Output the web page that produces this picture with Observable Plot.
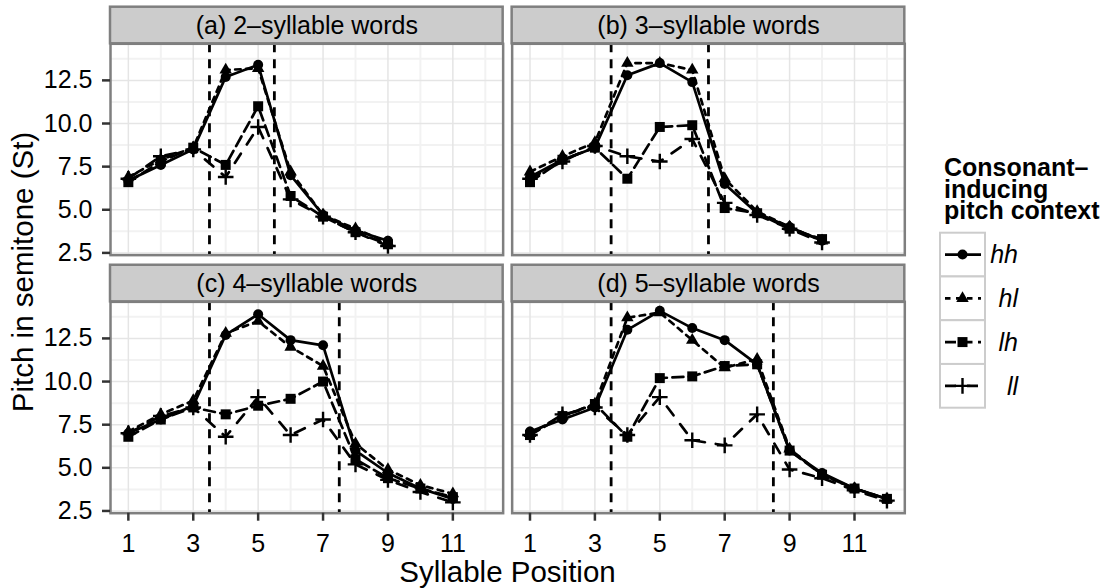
<!DOCTYPE html>
<html>
<head>
<meta charset="utf-8">
<script src="https://cdn.jsdelivr.net/npm/d3@7"></script>
<script src="https://cdn.jsdelivr.net/npm/@observablehq/plot@0.6"></script>
<style>
  html, body { margin: 0; padding: 0; background: #ffffff; }
  #chart { width: 1105px; height: 588px; }
</style>
</head>
<body>
<div id="chart"></div>
<script>
// ---------- data ----------
const panelTitles = ["(a) 2–syllable words", "(b) 3–syllable words", "(c) 4–syllable words", "(d) 5–syllable words"];
const panelCols = ["L", "R", "L", "R"];
const panelRows = ["T", "T", "B", "B"];
const contexts = ["hh", "hl", "lh", "ll"];

const positionsA = [1, 2, 3, 4, 5, 6, 7, 8, 9];
const positionsB = [1, 2, 3, 4, 5, 6, 7, 8, 9, 10];
const positionsC = [1, 2, 3, 4, 5, 6, 7, 8, 9, 10, 11];
const positionsD = [1, 2, 3, 4, 5, 6, 7, 8, 9, 10, 11, 12];

const panelA_hh = [6.7, 7.6, 8.5, 12.7, 13.4, 7.0, 4.7, 3.8, 3.2];
const panelA_hl = [6.9, 7.9, 8.6, 13.1, 13.2, 7.2, 4.7, 3.9, 3.1];
const panelA_lh = [6.6, 7.8, 8.6, 7.6, 11.0, 5.8, 4.6, 3.7, 3.0];
const panelA_ll = [6.8, 8.1, 8.5, 6.9, 9.8, 5.6, 4.6, 3.7, 2.9];

const panelB_hh = [6.9, 7.9, 8.6, 12.8, 13.5, 12.4, 6.5, 4.8, 4.0, 3.2];
const panelB_hl = [7.2, 8.1, 8.9, 13.5, 13.5, 13.1, 6.8, 4.9, 4.0, 3.2];
const panelB_lh = [6.6, 7.9, 8.6, 6.8, 9.8, 9.9, 5.1, 4.8, 3.9, 3.3];
const panelB_ll = [6.8, 7.8, 8.7, 8.1, 7.8, 9.1, 5.4, 4.7, 3.9, 3.1];

const panelC_hh = [7.0, 7.8, 8.6, 12.7, 13.9, 12.4, 12.1, 6.0, 4.7, 3.8, 3.2];
const panelC_hl = [7.1, 8.1, 8.9, 12.8, 13.5, 12.0, 10.9, 6.4, 4.9, 4.0, 3.5];
const panelC_lh = [6.8, 7.8, 8.5, 8.1, 8.6, 9.0, 10.0, 5.5, 4.4, 3.8, 3.3];
const panelC_ll = [7.0, 8.0, 8.5, 6.8, 9.1, 6.9, 7.8, 5.2, 4.3, 3.6, 3.0];

const panelD_hh = [7.1, 7.8, 8.5, 13.0, 14.1, 13.1, 12.4, 11.0, 6.0, 4.7, 3.8, 3.2];
const panelD_hl = [7.0, 8.0, 8.7, 13.7, 14.0, 12.4, 10.8, 11.3, 6.1, 4.6, 3.8, 3.2];
const panelD_lh = [6.9, 8.0, 8.7, 6.8, 10.2, 10.3, 10.9, 11.0, 6.0, 4.6, 3.8, 3.2];
const panelD_ll = [6.9, 8.1, 8.5, 6.9, 9.1, 6.6, 6.3, 8.1, 4.9, 4.4, 3.7, 3.1];

const boundaryStart = [3.5, 3.5, 3.5, 3.5];
const boundaryEnd = [5.5, 6.5, 7.5, 8.5];

const xTicks = [1, 3, 5, 7, 9, 11];
const xMinorTicks = [2, 4, 6, 8, 10, 12];
const yTicks = [2.5, 5.0, 7.5, 10.0, 12.5];
const yMinorTicks = [3.75, 6.25, 8.75, 11.25, 13.75];

const xTitle = "Syllable Position";
const yTitle = "Pitch in semitone (St)";
const legendTitleLines = ["Consonant–", "inducing", "pitch context"];

// ---------- tables for the library ----------
const positions = [positionsA, positionsB, positionsC, positionsD];
const series = [
  {hh: panelA_hh, hl: panelA_hl, lh: panelA_lh, ll: panelA_ll},
  {hh: panelB_hh, hl: panelB_hl, lh: panelB_lh, ll: panelB_ll},
  {hh: panelC_hh, hl: panelC_hl, lh: panelC_lh, ll: panelC_ll},
  {hh: panelD_hh, hl: panelD_hl, lh: panelD_lh, ll: panelD_ll}
];
const records = [];
panelTitles.forEach((title, p) => {
  contexts.forEach(ctx => {
    positions[p].forEach((pos, i) => {
      records.push({panel: title, col: panelCols[p], row: panelRows[p], ctx, pos, pitch: series[p][ctx][i]});
    });
  });
});
const panelRecords = panelTitles.map((title, p) => ({title, col: panelCols[p], row: panelRows[p]}));
const boundaryRecords = [];
panelTitles.forEach((title, p) => {
  boundaryRecords.push({col: panelCols[p], row: panelRows[p], pos: boundaryStart[p]});
  boundaryRecords.push({col: panelCols[p], row: panelRows[p], pos: boundaryEnd[p]});
});

// ---------- styles ----------
const LW = 2.7;
const dashes = {hh: null, hl: "5.5,5.5", lh: "11,5.5", ll: "11,11"};
const symbols = {
  hh: {draw(c) { c.moveTo(5, 0); c.arc(0, 0, 5, 0, 2 * Math.PI); }},
  hl: {draw(c) { const r = 7.2, xc = r * 1.3468 / 1.5551; c.moveTo(0, -r); c.lineTo(xc, r / 2); c.lineTo(-xc, r / 2); c.closePath(); }},
  lh: {draw(c) { const h = 5; c.rect(-h, -h, 2 * h, 2 * h); }},
  ll: {draw(c) { const h = 7.8; c.moveTo(-h, 0); c.lineTo(h, 0); c.moveTo(0, -h); c.lineTo(0, h); }}
};
const isStroked = {hh: false, hl: false, lh: false, ll: true};

const W = 1105, H = 588;
const mt = 43.3, mb = 588 - 512.7, ml = 110, mr = 1105 - 904.3;
const fxPad = 0.0224, fyPad = 0.181;
const fyBand = (H - mt - mb) / (2 - fyPad) * (1 - fyPad);
const stripH = 36.6;
const FONT = "'Liberation Sans', Arial, Helvetica, sans-serif";
const smallFont = 25;
const titleFont = 29.5;

const lineMarks = contexts.slice().reverse().map(ctx =>
  Plot.line(records.filter(d => d.ctx === ctx), {
    x: "pos", y: "pitch", fx: "col", fy: "row", z: "panel",
    stroke: "black", strokeWidth: LW, strokeDasharray: dashes[ctx] || undefined
  })
);
const dotMarks = contexts.slice().reverse().map(ctx =>
  Plot.dot(records.filter(d => d.ctx === ctx), {
    x: "pos", y: "pitch", fx: "col", fy: "row",
    symbol: symbols[ctx],
    fill: isStroked[ctx] ? "none" : "black",
    stroke: isStroked[ctx] ? "black" : "none",
    strokeWidth: isStroked[ctx] ? 2.4 : 0
  })
);

const chart = Plot.plot({
  width: W, height: H,
  marginTop: mt, marginBottom: mb, marginLeft: ml, marginRight: mr,
  style: {fontFamily: FONT, fontSize: smallFont + "px", background: "#ffffff", color: "black", overflow: "visible"},
  fx: {domain: ["L", "R"], paddingInner: fxPad, paddingOuter: 0, round: false, axis: null, label: null},
  fy: {domain: ["T", "B"], paddingInner: fyPad, paddingOuter: 0, round: false, axis: null, label: null},
  x: {domain: [0.45, 12.55]},
  y: {domain: [2.37, 14.62]},
  marks: [
    Plot.gridX({ticks: xMinorTicks, stroke: "#F2F2F2", strokeOpacity: 1, strokeWidth: 2}),
    Plot.gridY({ticks: yMinorTicks, stroke: "#F2F2F2", strokeOpacity: 1, strokeWidth: 2}),
    Plot.gridX({ticks: xTicks, stroke: "#E5E5E5", strokeOpacity: 1, strokeWidth: 1.5}),
    Plot.gridY({ticks: yTicks, stroke: "#E5E5E5", strokeOpacity: 1, strokeWidth: 1.5}),
    Plot.ruleX(boundaryRecords, {x: "pos", fx: "col", fy: "row", stroke: "black", strokeWidth: 2.8, strokeDasharray: "9,7"}),
    ...lineMarks,
    ...dotMarks,
    Plot.frame({stroke: "#7F7F7F", strokeWidth: 2.5}),
    Plot.rect(panelRecords, {fx: "col", fy: "row", fill: "#CCCCCC", stroke: "#7F7F7F", strokeWidth: 2.5,
      insetTop: -stripH, insetBottom: fyBand}),
    Plot.text(panelRecords, {fx: "col", fy: "row", text: "title", frameAnchor: "top", dy: -stripH / 2,
      lineAnchor: "middle", fontSize: smallFont, fill: "black"}),
    Plot.axisX({ticks: xTicks, tickSize: 8, tickPadding: 13, fontSize: smallFont, stroke: "#333333", strokeWidth: 2.5, label: null}),
    Plot.axisY({ticks: yTicks, tickFormat: d3.format(".1f"), tickSize: 8, tickPadding: 10, fontSize: smallFont, stroke: "#333333", strokeWidth: 2.5, label: null})
  ]
});

document.getElementById("chart").appendChild(chart);

// ---------- axis titles and legend ----------
const svg = d3.select(chart);
svg.append("text")
  .attr("transform", "translate(33,272) rotate(-90)")
  .attr("text-anchor", "middle")
  .attr("font-family", FONT).attr("font-size", titleFont).attr("fill", "black")
  .text(yTitle);
svg.append("text")
  .attr("x", 507.5).attr("y", 582)
  .attr("text-anchor", "middle")
  .attr("font-family", FONT).attr("font-size", titleFont).attr("fill", "black")
  .text(xTitle);

const legend = svg.append("g").attr("font-family", FONT);
const legendTitle = legend.append("text")
  .attr("x", 944).attr("y", 176)
  .attr("text-anchor", "start")
  .attr("font-size", smallFont).attr("font-weight", "bold").attr("fill", "black");
legendTitleLines.forEach((line, i) => {
  legendTitle.append("tspan")
    .attr("x", 944).attr("dy", i === 0 ? 0 : 21.6)
    .text(line);
});
const keyTop = 232.7, keyH = 43.75, keyX = 940, keyW = 45;
contexts.forEach((ctx, i) => {
  const cy = keyTop + i * keyH + keyH / 2;
  legend.append("rect")
    .attr("x", keyX).attr("y", keyTop + i * keyH).attr("width", keyW).attr("height", keyH)
    .attr("fill", "white").attr("stroke", "#CCCCCC").attr("stroke-width", 2);
  legend.append("line")
    .attr("x1", 945).attr("x2", 981).attr("y1", cy).attr("y2", cy)
    .attr("stroke", "black").attr("stroke-width", LW)
    .attr("stroke-dasharray", dashes[ctx]);
  legend.append("path")
    .attr("transform", `translate(${keyX + keyW / 2},${cy})`)
    .attr("d", d3.symbol(symbols[ctx])())
    .attr("fill", isStroked[ctx] ? "none" : "black")
    .attr("stroke", isStroked[ctx] ? "black" : "none")
    .attr("stroke-width", 2.4);
  legend.append("text")
    .attr("x", 1018).attr("y", cy).attr("dy", "0.35em")
    .attr("text-anchor", "end")
    .attr("font-size", smallFont).attr("font-style", "italic").attr("fill", "black")
    .text(ctx);
});
</script>
</body>
</html>
